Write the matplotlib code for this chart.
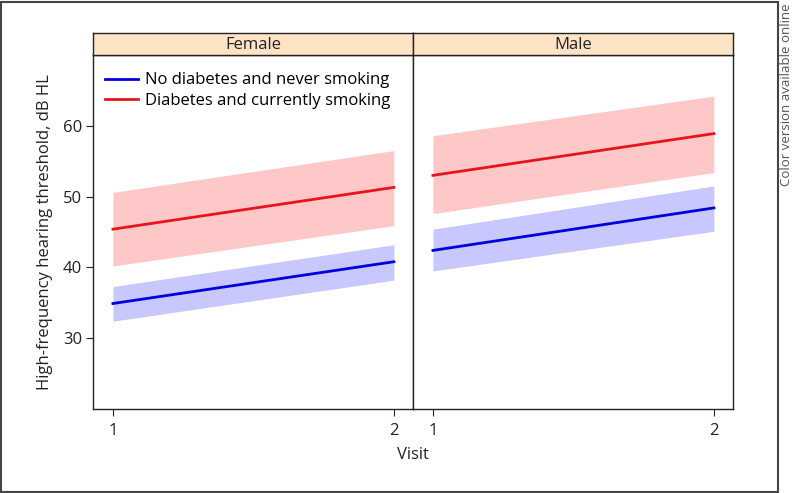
import matplotlib
matplotlib.use("Agg")
import matplotlib.pyplot as plt
from matplotlib.patches import Rectangle

plt.rcParams['font.family'] = ['Open Sans', 'DejaVu Sans']

# data
visits = [1, 2]
panels = ["Female", "Male"]
series = ["No diabetes and never smoking", "Diabetes and currently smoking"]
# values per panel (Female, Male), at visit 1 and 2
blue_mean = [[34.9, 40.8], [42.4, 48.4]]
blue_lo = [[32.4, 38.2], [39.5, 45.1]]
blue_hi = [[37.3, 43.2], [45.4, 51.5]]
red_mean = [[45.4, 51.3], [53.0, 58.9]]
red_lo = [[40.2, 45.9], [47.6, 53.4]]
red_hi = [[50.6, 56.5], [58.6, 64.2]]
yticks = [30, 40, 50, 60]

W, H = 793, 493
FS = 12
TXT = "#222222"
fig = plt.figure(figsize=(W / 100, H / 100), dpi=100)

def px(x0, y0, x1, y1):
    return [x0 / W, 1 - y1 / H, (x1 - x0) / W, (y1 - y0) / H]

# outer frame
fig.patches.append(Rectangle((1 / W, 1 / H), 777 / W, 490 / H, transform=fig.transFigure,
                             fill=False, edgecolor="#444444", linewidth=1.5))

lefts = [93, 413]
for i, name in enumerate(panels):
    x0 = lefts[i]
    ax = fig.add_axes(px(x0, 55, x0 + 320, 409))
    ax.fill_between(visits, blue_lo[i], blue_hi[i], color="#c8c8ff", linewidth=0)
    ax.fill_between(visits, red_lo[i], red_hi[i], color="#ffc8c8", linewidth=0)
    ax.plot(visits, blue_mean[i], color="#0000dd", lw=2, label=series[0])
    ax.plot(visits, red_mean[i], color="#e8141c", lw=2, label=series[1])
    ax.set_xlim(0.929, 2.068)
    ax.set_ylim(20, 70)
    ax.set_xticks(visits)
    ax.set_xticklabels([str(v) for v in visits], fontsize=FS, color=TXT)
    ax.tick_params(axis="x", length=5, pad=5, color=TXT)
    if i == 0:
        ax.set_yticks(yticks)
        ax.set_yticklabels([str(v) for v in yticks], fontsize=FS, color=TXT)
        ax.tick_params(axis="y", length=5, pad=3, color=TXT)
        ax.set_ylabel("High-frequency hearing threshold, dB HL", fontsize=FS,
                      color=TXT, labelpad=7)
        ax.legend(loc="upper left", bbox_to_anchor=(0.022, 0.965), frameon=False,
                  fontsize=FS, handlelength=2.0, handletextpad=0.4,
                  borderaxespad=0, borderpad=0.3, labelspacing=0.25)
    else:
        ax.set_yticks([])
    for sp in ax.spines.values():
        sp.set_color(TXT)
        sp.set_linewidth(1.0)

    st = fig.add_axes(px(x0, 33, x0 + 320, 55))
    st.set_facecolor("#fde3c6")
    st.set_xticks([])
    st.set_yticks([])
    for sp in st.spines.values():
        sp.set_color(TXT)
        sp.set_linewidth(1.0)
    st.text(0.5, 0.45, name, ha="center", va="center", fontsize=FS,
            color=TXT, transform=st.transAxes)

fig.text(413 / W, 1 - 455 / H, "Visit", ha="center", va="center", fontsize=FS, color=TXT)
fig.text(786 / W, 1 - 3 / H, "Color version available online", rotation=90,
         ha="center", va="top", fontsize=9.5, color="#555555")

fig.savefig("out.png", dpi=100)
